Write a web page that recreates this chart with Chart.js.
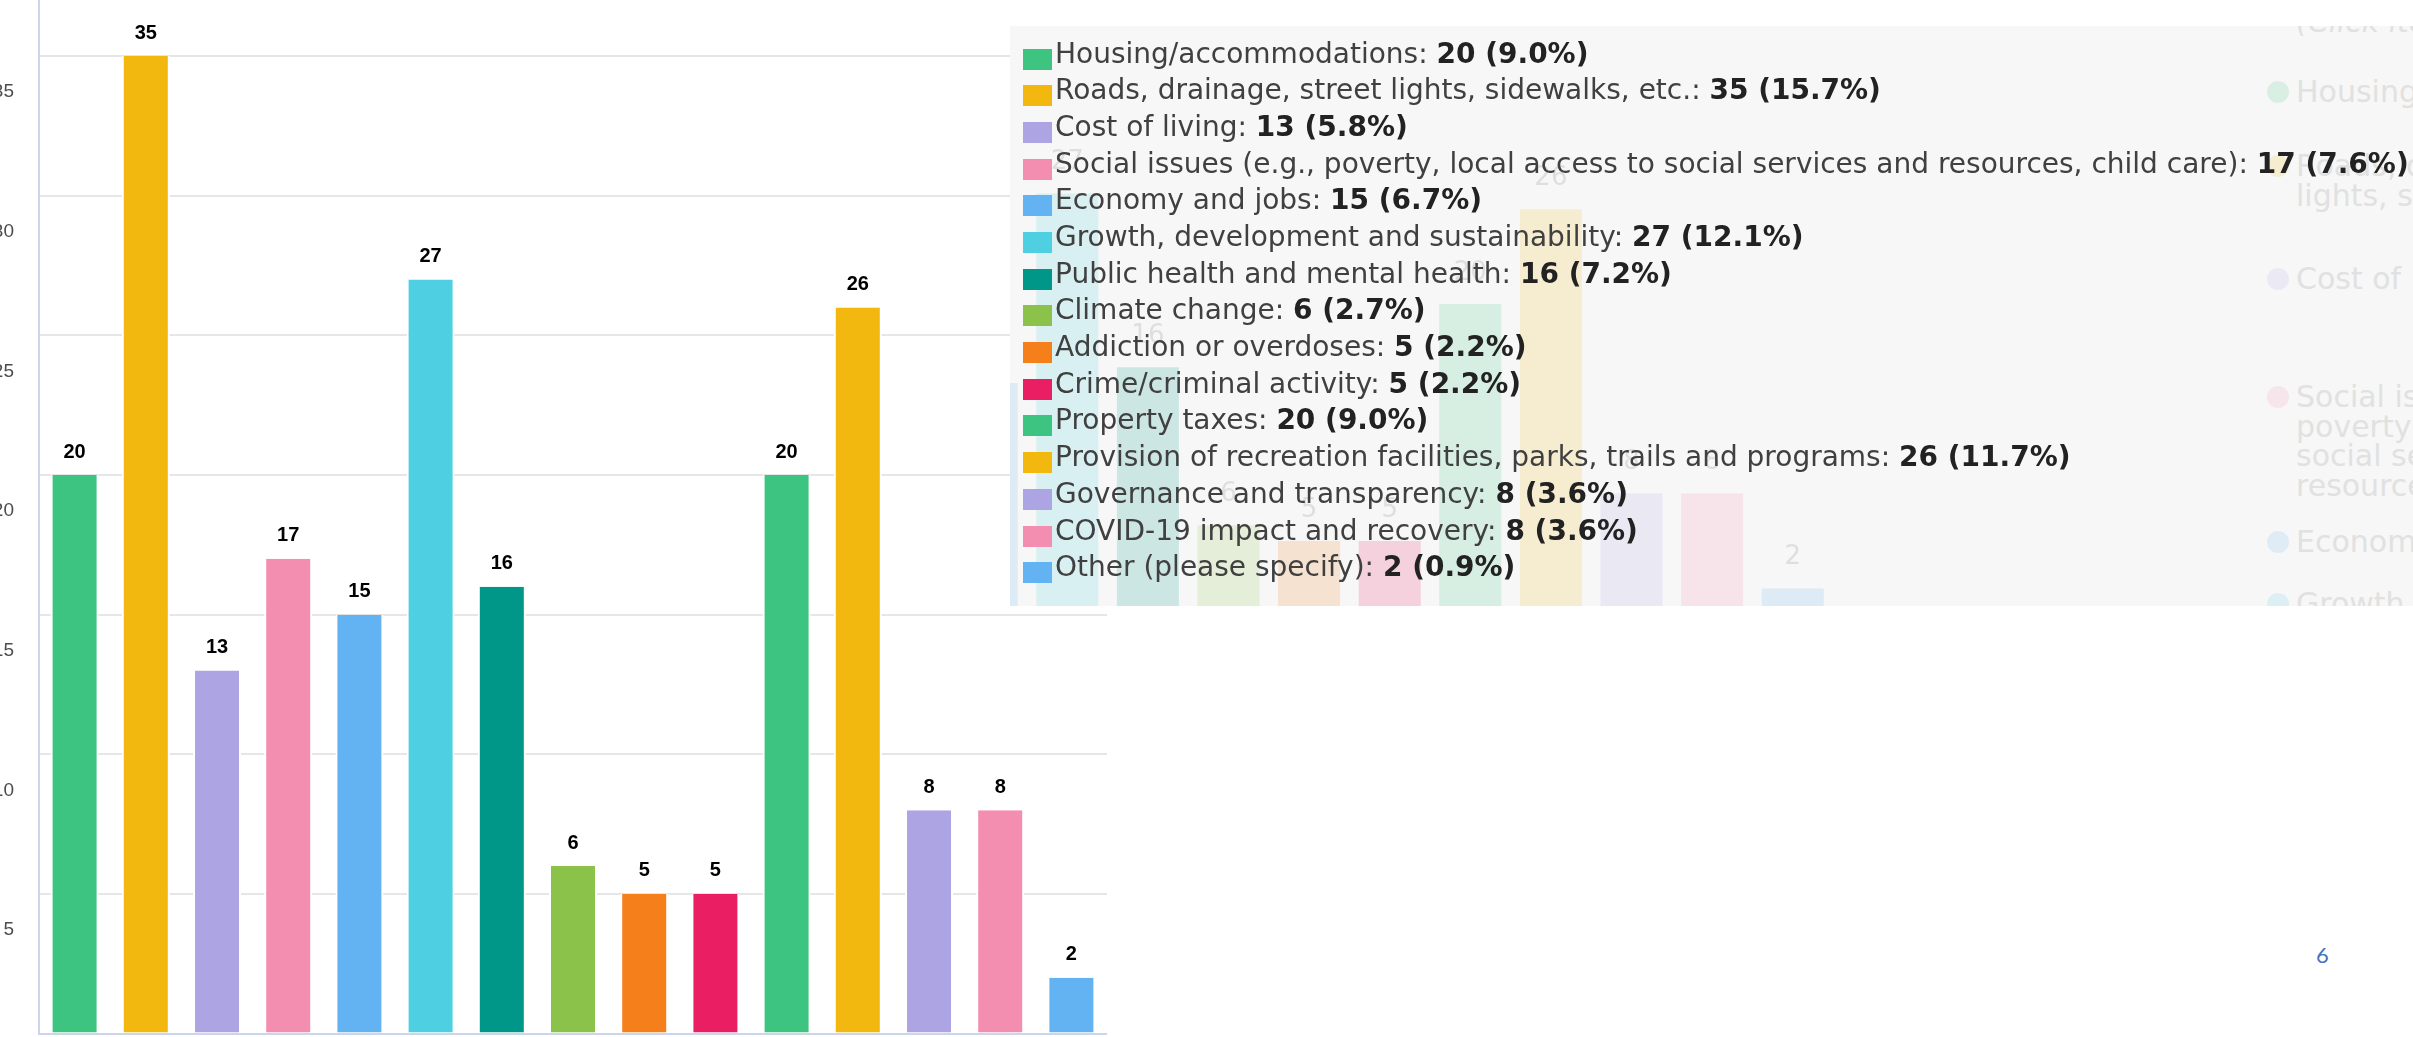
<!DOCTYPE html>
<html>
<head>
<meta charset="utf-8">
<script src="https://cdn.jsdelivr.net/npm/chart.js@4.4.1/dist/chart.umd.min.js"></script>
<style>
  html, body { margin: 0; padding: 0; }
  body { width: 2413px; height: 1037px; overflow: hidden; background: #fff; position: relative; }
  canvas { position: absolute; }
  #panel { position: absolute; left: 1010px; top: 26px; width: 1403px; height: 580px; background: #f7f7f7; overflow: hidden; }
  #ghostCanvas { opacity: 0.17; }
  #ghostLegend { position: absolute; left: 1286px; top: 0; width: 370px; font: 30px "DejaVu Sans"; color: #e1e1e1; line-height: 29.5px; }
  #ghostLegend .item { position: absolute; left: 0; width: 370px; }
  #ghostLegend .dot { position: absolute; left: -29px; top: 4px; width: 22px; height: 22px; border-radius: 50%; opacity: 0.16; }
  #ghostLegend .hint { font-style: italic; }
  #legend { position: absolute; left: 0; top: 9.6px; font: 28px "DejaVu Sans"; color: #404040; white-space: nowrap; }
  #legend .row { position: relative; height: 36.7px; line-height: 36.7px; padding-left: 45px; }
  #legend .sq { position: absolute; left: 13px; top: 13px; width: 29px; height: 21px; }
  #legend b { color: #222222; }
  #pageNo { position: absolute; left: 2316px; top: 941px; font: 22px Lato, "Open Sans", sans-serif; color: #4472c4; }
</style>
</head>
<body>
<canvas id="mainCanvas"></canvas>
<div id="panel">
  <canvas id="ghostCanvas"></canvas>
  <div id="ghostLegend"></div>
  <div id="legend"></div>
</div>
<div id="pageNo">6</div>
<script>
// survey answers, in the order of the bars
const categories = [
  'Housing/accommodations',
  'Roads, drainage, street lights, sidewalks, etc.',
  'Cost of living',
  'Social issues (e.g., poverty, local access to social services and resources, child care)',
  'Economy and jobs',
  'Growth, development and sustainability',
  'Public health and mental health',
  'Climate change',
  'Addiction or overdoses',
  'Crime/criminal activity',
  'Property taxes',
  'Provision of recreation facilities, parks, trails and programs',
  'Governance and transparency',
  'COVID-19 impact and recovery',
  'Other (please specify)'
];
const counts = [20, 35, 13, 17, 15, 27, 16, 6, 5, 5, 20, 26, 8, 8, 2];
const barColors = [
  '#3ec481', '#f2b80f', '#ada4e4', '#f38eb0', '#63b3f3',
  '#4ed0e2', '#009688', '#8bc34a', '#f57f1a', '#e91e63',
  '#3ec481', '#f2b80f', '#ada4e4', '#f38eb0', '#63b3f3'
];
const yMin = 0, yMax = 40, yStep = 5;

const total = counts.reduce((a, b) => a + b, 0);

function valueLabels(font, color, gap, outline) {
  return {
    id: 'valueLabels',
    afterDatasetsDraw(chart) {
      const ctx = chart.ctx;
      const meta = chart.getDatasetMeta(0);
      ctx.save();
      ctx.font = font;
      ctx.textAlign = 'center';
      ctx.textBaseline = 'middle';
      meta.data.forEach((bar, i) => {
        const text = String(chart.data.datasets[0].data[i]);
        if (outline) {
          ctx.lineWidth = 3;
          ctx.lineJoin = 'round';
          ctx.strokeStyle = '#ffffff';
          ctx.strokeText(text, bar.x, bar.y - gap);
        }
        ctx.fillStyle = color;
        ctx.fillText(text, bar.x, bar.y - gap);
      });
      ctx.restore();
    }
  };
}

function buildChart(canvas, config, w, h) {
  canvas.width = w;
  canvas.height = h;
  canvas.style.width = w + 'px';
  canvas.style.height = h + 'px';
  return new Chart(canvas, config);
}

// size the canvas so the plot area has the wanted size, then move it in place
function placeChart(canvas, makeConfig, areaW, areaH, left, zeroY) {
  let w = areaW + 100, h = areaH + 100;
  let chart = buildChart(canvas, makeConfig(), w, h);
  const a = chart.chartArea;
  w += areaW - (a.right - a.left);
  h += areaH - (a.bottom - a.top);
  chart.destroy();
  chart = buildChart(canvas, makeConfig(), Math.round(w), Math.round(h));
  canvas.style.left = (left - chart.chartArea.left) + 'px';
  canvas.style.top = (zeroY - chart.scales.y.getPixelForValue(0)) + 'px';
  return chart;
}

function mainConfig() {
  return {
    type: 'bar',
    data: {
      labels: categories,
      datasets: [{
        data: counts,
        backgroundColor: barColors,
        borderColor: '#ffffff',
        borderWidth: { left: 2, right: 2, top: 0, bottom: 0 },
        barPercentage: 0.674,
        categoryPercentage: 1
      }]
    },
    options: {
      responsive: false,
      maintainAspectRatio: false,
      animation: false,
      layout: { autoPadding: false, padding: { top: 0, right: 0, bottom: 4, left: 0 } },
      plugins: { legend: { display: false }, tooltip: { enabled: false } },
      scales: {
        x: {
          grid: { display: false },
          ticks: { display: false },
          border: { color: '#ccd6eb', width: 2 },
          afterFit: s => { s.height = 0; }
        },
        y: {
          min: yMin,
          max: yMax,
          ticks: {
            stepSize: yStep,
            padding: 25,
            labelOffset: 36,
            color: '#4d4d4d',
            font: { family: 'Liberation Sans', size: 19 }
          },
          grid: { color: '#e6e6e6', lineWidth: 2, drawTicks: false },
          border: { color: '#ccd6eb', width: 2 },
          afterFit: s => { s.width = 60; }
        }
      }
    },
    plugins: [valueLabels('bold 20px "Liberation Sans"', '#000000', 23, true)]
  };
}

// faded copy of the chart behind the pasted legend
function ghostConfig() {
  return {
    type: 'bar',
    data: {
      labels: categories,
      datasets: [{
        data: counts,
        backgroundColor: barColors,
        barPercentage: 0.77,
        categoryPercentage: 1
      }]
    },
    options: {
      responsive: false,
      maintainAspectRatio: false,
      animation: false,
      layout: { autoPadding: false, padding: 0 },
      plugins: { legend: { display: false }, tooltip: { enabled: false } },
      scales: {
        x: { display: false },
        y: { display: false, min: yMin, max: yMax }
      }
    },
    plugins: [valueLabels('26px "DejaVu Sans"', '#666666', 31, false)]
  };
}

placeChart(document.getElementById('mainCanvas'), mainConfig, 15 * 71.2, 40 * 27.92, 39, 1034);
placeChart(document.getElementById('ghostCanvas'), ghostConfig, 15 * 80.6, 40 * 15.8, -386, 594);

// faded legend on the far right (line centres in panel coordinates)
const ghost = document.getElementById('ghostLegend');
const ghostItems = ['(Click items to hide)'].concat(categories.slice(0, 6));
const ghostCentres = [-4, 66, 140, 253, 371, 516, 578];
ghostItems.forEach((c, i) => {
  const item = document.createElement('div');
  item.className = 'item' + (i === 0 ? ' hint' : '');
  item.style.top = (ghostCentres[i] - 14.75) + 'px';
  if (i > 0) {
    const dot = document.createElement('span');
    dot.className = 'dot';
    dot.style.background = barColors[i - 1];
    item.appendChild(dot);
  }
  item.appendChild(document.createTextNode(c));
  ghost.appendChild(item);
});

// the tooltip list
const legend = document.getElementById('legend');
categories.forEach((c, i) => {
  const row = document.createElement('div');
  row.className = 'row';
  const sq = document.createElement('span');
  sq.className = 'sq';
  sq.style.background = barColors[i];
  row.appendChild(sq);
  row.appendChild(document.createTextNode(c + ': '));
  const b = document.createElement('b');
  b.textContent = counts[i] + ' (' + (counts[i] / total * 100).toFixed(1) + '%)';
  row.appendChild(b);
  legend.appendChild(row);
});
</script>
</body>
</html>
